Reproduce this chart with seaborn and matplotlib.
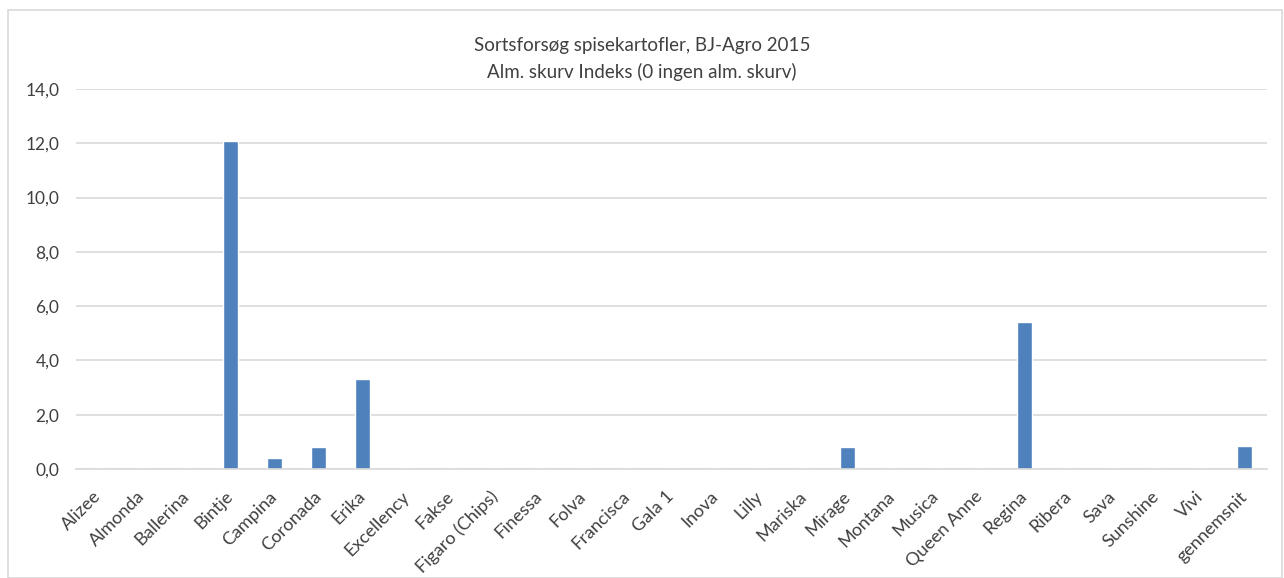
import matplotlib
matplotlib.use('Agg')
import matplotlib.pyplot as plt
import seaborn as sns
import pandas as pd
from matplotlib.patches import Rectangle
from matplotlib.ticker import FuncFormatter

sorter = ['Alizee', 'Almonda', 'Ballerina', 'Bintje', 'Campina', 'Coronada', 'Erika',
          'Excellency', 'Fakse', 'Figaro (Chips)', 'Finessa', 'Folva', 'Francisca',
          'Gala 1', 'Inova', 'Lilly', 'Mariska', 'Mirage', 'Montana', 'Musica',
          'Queen Anne', 'Regina', 'Ribera', 'Sava', 'Sunshine', 'Vivi', 'gennemsnit']
skurv = [0, 0, 0, 12.07, 0.4, 0.8, 3.3,
         0, 0, 0, 0, 0, 0,
         0, 0, 0, 0, 0.8, 0, 0,
         0, 5.4, 0, 0, 0, 0, 0.85]

df = pd.DataFrame({'sort': sorter, 'skurv': skurv})

sns.set_style('white')
plt.rcParams['font.family'] = ['Lato', 'DejaVu Sans']

fig = plt.figure(figsize=(12.84, 5.78), dpi=100)
ax = fig.add_axes([76 / 1284, 1 - 469 / 578, (1267 - 76) / 1284, (469 - 89) / 578])

sns.barplot(data=df, x='sort', y='skurv', color='#4f81bd', width=0.34, ax=ax,
            saturation=1)

ax.set_ylim(0, 14)
ax.set_yticks(range(0, 15, 2))
ax.yaxis.set_major_formatter(FuncFormatter(lambda v, p: f'{v:.1f}'.replace('.', ',')))
ax.grid(axis='y', color='#d9d9d9', linewidth=1.2)
ax.set_axisbelow(True)
for s in ['top', 'right', 'left']:
    ax.spines[s].set_visible(False)
ax.spines['bottom'].set_color('#d9d9d9')
ax.spines['bottom'].set_linewidth(1.2)
ax.set_xlim(-0.5, len(sorter) - 0.5)
ax.tick_params(axis='y', length=0, labelsize=12.5, pad=12, colors='#404040')
ax.tick_params(axis='x', length=0, labelsize=13, pad=18, colors='#404040')
plt.setp(ax.get_xticklabels(), rotation=45, ha='right', va='center',
         rotation_mode='anchor')
ax.set_xlabel('')
ax.set_ylabel('')

fig.text(0.5, 1 - 46 / 578, 'Sortsforsøg spisekartofler, BJ-Agro 2015',
         ha='center', va='center', fontsize=13.5, color='#404040')
fig.text(0.5, 1 - 72 / 578, 'Alm. skurv Indeks (0 ingen alm. skurv)',
         ha='center', va='center', fontsize=13.5, color='#404040')

fig.patches.append(Rectangle((8 / 1284, 0), 1 - 10 / 1284, 1 - 10 / 578,
                             transform=fig.transFigure, fill=False,
                             edgecolor='#d9d9d9', linewidth=1.2))

fig.savefig('out.png', dpi=100)
